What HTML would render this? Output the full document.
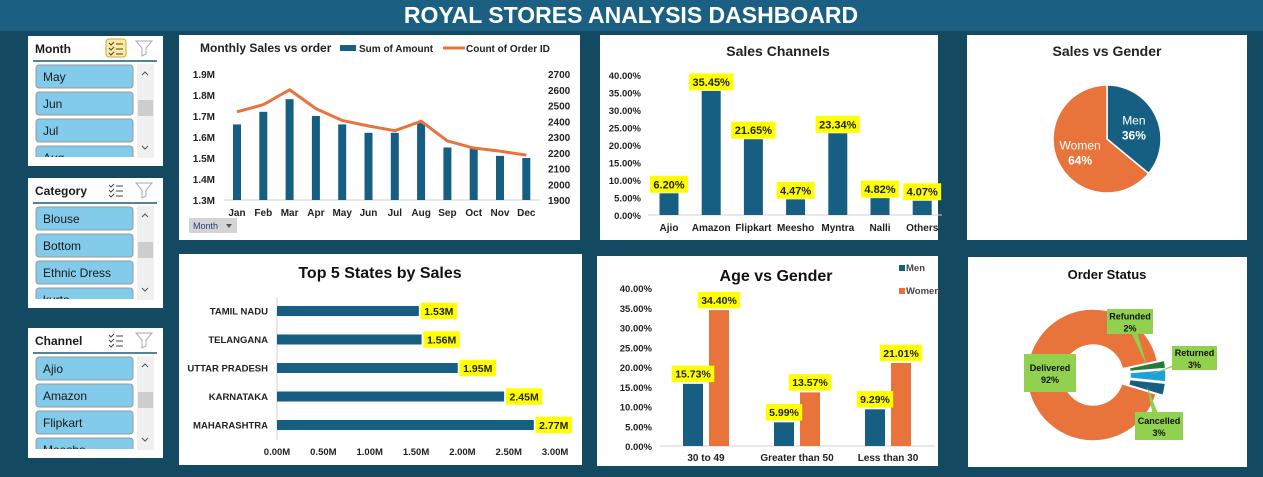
<!DOCTYPE html>
<html><head><meta charset="utf-8">
<style>
html,body{margin:0;padding:0;width:1263px;height:477px;overflow:hidden;background:#134a62;font-family:"Liberation Sans",Arial,sans-serif;}
svg text{font-family:"Liberation Sans",Arial,sans-serif;}
</style></head>
<body>
<svg id="dash" width="1263" height="477" viewBox="0 0 1263 477" xmlns="http://www.w3.org/2000/svg">
  <rect x="0" y="0" width="1263" height="477" fill="#134a62"/>
  <rect x="0" y="0" width="1263" height="31" fill="#1b6082"/>
  <text x="631" y="23" text-anchor="middle" fill="#fff" font-size="23" font-weight="bold">ROYAL STORES ANALYSIS DASHBOARD</text>

  <rect x="179" y="35" width="401" height="205" fill="#fff"/>
  <rect x="600" y="35" width="338" height="205" fill="#fff"/>
  <rect x="967" y="35" width="280" height="205" fill="#fff"/>
  <rect x="179" y="254" width="403" height="211" fill="#fff"/>
  <rect x="597" y="256" width="341" height="210" fill="#fff"/>
  <rect x="968" y="257" width="279" height="210" fill="#fff"/>

  <g id="slicers"></g>
  <g id="monthly"></g>
  <g id="channels"></g>
  <g id="genderpie"></g>
  <g id="states"></g>
  <g id="age"></g>
  <g id="status"></g>
</svg>
<script>
const months = ["Jan","Feb","Mar","Apr","May","Jun","Jul","Aug","Sep","Oct","Nov","Dec"];
const monthlyAmount = [1.66,1.72,1.78,1.70,1.66,1.62,1.62,1.67,1.55,1.55,1.51,1.50];
const monthlyOrders = [2460,2505,2600,2480,2405,2370,2340,2400,2275,2230,2210,2185];
const leftTicks = [1.3,1.4,1.5,1.6,1.7,1.8,1.9];
const rightTicks = [1900,2000,2100,2200,2300,2400,2500,2600,2700];

const channelNames = ["Ajio","Amazon","Flipkart","Meesho","Myntra","Nalli","Others"];
const channelShare = [6.20,35.45,21.65,4.47,23.34,4.82,4.07];
const pctTicks = [0,5,10,15,20,25,30,35,40];

const genderNames = ["Men","Women"];
const genderShare = [36,64];

const stateNames = ["TAMIL NADU","TELANGANA","UTTAR PRADESH","KARNATAKA","MAHARASHTRA"];
const stateSales = [1.53,1.56,1.95,2.45,2.77];
const stateTicks = [0,0.5,1.0,1.5,2.0,2.5,3.0];

const ageGroups = ["30 to 49","Greater than 50","Less than 30"];
const ageMen = [15.73,5.99,9.29];
const ageWomen = [34.40,13.57,21.01];

const statusNames = ["Delivered","Refunded","Returned","Cancelled"];
const statusShare = [92,2,3,3];

const slicerMonth = ["May","Jun","Jul","Aug"];
const slicerCategory = ["Blouse","Bottom","Ethnic Dress","kurta"];
const slicerChannel = ["Ajio","Amazon","Flipkart","Meesho"];

const NS="http://www.w3.org/2000/svg";
function mk(parent, tag, attrs, text){
  const e=document.createElementNS(NS,tag);
  for(const k in attrs) e.setAttribute(k,attrs[k]);
  if(text!==undefined) e.textContent=text;
  parent.appendChild(e); return e;
}
const BLUE="#175f82", ORANGE="#e8743b", YEL="#ffff00";
function label(g,cx,cy,txt,fs){
  const w=txt.length*fs*0.58+6;
  const r=mk(g,'rect',{x:cx-w/2,y:cy-fs/2-3,width:w,height:fs+6,fill:YEL});
  
  
  const t=mk(g,'text',{x:cx,y:cy+fs*0.36,'text-anchor':'middle','font-size':fs,'font-weight':'bold',fill:'#222'},txt);
  
  
}

(function(){
  const g=document.getElementById('slicers');
  const defs=[["Month",36,slicerMonth,true],["Category",178,slicerCategory,false],["Channel",328,slicerChannel,false]];
  defs.forEach(([title,y0,items,hl])=>{
    const s=mk(g,'g',{});
    
    
    mk(s,'rect',{x:28,y:y0,width:135,height:130,fill:'#fff'});
    const tt=mk(s,'text',{x:35,y:y0+17,'font-size':12,'font-weight':'bold',fill:'#1a1a1a'},title);
    
    
    const ms=mk(s,'g',{});
    
    
    if(hl) mk(ms,'rect',{x:106,y:y0+3,width:20,height:18,rx:3,fill:'#fdeaa0',stroke:'#c9a94a'});
    for(let i=0;i<3;i++){
      mk(ms,'path',{d:`M109 ${y0+7+i*5} l2 2 l3 -3 M116 ${y0+8+i*5} h7`,stroke:'#444',fill:'none','stroke-width':1});
    }
    const cf=mk(s,'path',{d:`M136 ${y0+5} h16 l-6 7 v6 l-4 2 v-8 z`,fill:'none',stroke:'#aaa','stroke-width':1});
    
    
    mk(s,'line',{x1:33,x2:157,y1:y0+25,y2:y0+25,stroke:'#1b5a78','stroke-width':1.5});
    const clipId='clip'+title;
    const cp=mk(s,'clipPath',{id:clipId}); mk(cp,'rect',{x:30,y:y0+27,width:110,height:94});
    const ig=mk(s,'g',{'clip-path':`url(#${clipId})`});
    items.forEach((it,i)=>{
      const b=mk(ig,'g',{});
      
      
      mk(b,'rect',{x:36,y:y0+29+i*27,width:97,height:23,rx:3,fill:'#83cbea',stroke:'#999'});
      mk(b,'text',{x:43,y:y0+45+i*27,'font-size':12,fill:'#1a1a1a'},it);
    });
    const sb=mk(s,'g',{});
    
    
    mk(sb,'rect',{x:137,y:y0+28,width:17,height:94,fill:'#f0f0f0'});
    mk(sb,'rect',{x:138,y:y0+64,width:15,height:16,fill:'#cdcdcd'});
    mk(sb,'path',{d:`M142 ${y0+39} l3 -3 l3 3`,stroke:'#555',fill:'none'});
    mk(sb,'path',{d:`M142 ${y0+110} l3 3 l3 -3`,stroke:'#555',fill:'none'});
  });
})();

(function(){
  const g=document.getElementById('monthly');
  const yL=v=>200-(v-1.3)/0.6*126;
  const yR=v=>200-(v-1900)/800*126;
  const x=i=>237+i*26.3;
  const t=mk(g,'text',{x:200,y:52,'font-size':12,'font-weight':'bold',fill:'#222'},'Monthly Sales vs order');
   
  const lg=mk(g,'g',{});  
  mk(lg,'rect',{x:340,y:45,width:16,height:6,fill:BLUE});
  mk(lg,'text',{x:359,y:52,'font-size':10,'font-weight':'bold',fill:'#222'},'Sum of Amount');
  mk(lg,'line',{x1:443,x2:465,y1:48,y2:48,stroke:ORANGE,'stroke-width':3});
  mk(lg,'text',{x:466,y:52,'font-size':10,'font-weight':'bold',fill:'#222'},'Count of Order ID');
  leftTicks.forEach(v=>{const e=mk(g,'text',{x:215,y:yL(v)+4,'text-anchor':'end','font-size':10,'font-weight':'bold',fill:'#222'},v.toFixed(1)+'M');
     });
  rightTicks.forEach(v=>{const e=mk(g,'text',{x:548,y:yR(v)+4,'font-size':10,'font-weight':'bold',fill:'#222'},v);
     });
  mk(g,'line',{x1:224,x2:540,y1:200,y2:200,stroke:'#d0d0d0'});
  months.forEach((m,i)=>{
    const b=mk(g,'rect',{x:x(i)-4,y:yL(monthlyAmount[i]),width:8,height:200-yL(monthlyAmount[i]),fill:BLUE});
     
    const l=mk(g,'text',{x:x(i),y:216,'text-anchor':'middle','font-size':10,'font-weight':'bold',fill:'#222'},m);
     
  });
  const pts=monthlyOrders.map((v,i)=>x(i)+','+yR(v)).join(' ');
  const pl=mk(g,'polyline',{points:pts,fill:'none',stroke:ORANGE,'stroke-width':3,'stroke-linejoin':'round'});
   
  const btn=mk(g,'g',{});  
  mk(btn,'rect',{x:189,y:218,width:48,height:15,fill:'#d4d4d4'});
  mk(btn,'text',{x:193,y:229,'font-size':9,fill:'#1f3f7f'},'Month');
  mk(btn,'path',{d:'M226 224 h6 l-3 4 z',fill:'#555'});
})();

(function(){
  const g=document.getElementById('channels');
  const y=v=>215-v*3.5;
  const x=i=>669+i*42.2;
  const t=mk(g,'text',{x:778,y:56,'text-anchor':'middle','font-size':14,'font-weight':'bold',fill:'#222'},'Sales Channels');
   
  pctTicks.forEach(v=>{const e=mk(g,'text',{x:641,y:y(v)+4,'text-anchor':'end','font-size':9.5,'font-weight':'bold',fill:'#222'},v.toFixed(2)+'%');
     });
  mk(g,'line',{x1:648,x2:942,y1:215,y2:215,stroke:'#d0d0d0'});
  channelNames.forEach((n,i)=>{
    const b=mk(g,'rect',{x:x(i)-9.5,y:y(channelShare[i]),width:19,height:215-y(channelShare[i]),fill:BLUE});
     
    const l=mk(g,'text',{x:x(i),y:231,'text-anchor':'middle','font-size':10,'font-weight':'bold',fill:'#222'},n);
     
    label(g,x(i),y(channelShare[i])-9,channelShare[i].toFixed(2)+'%',11);
  });
})();

(function(){
  const g=document.getElementById('genderpie');
  const t=mk(g,'text',{x:1107,y:56,'text-anchor':'middle','font-size':14,'font-weight':'bold',fill:'#222'},'Sales vs Gender');
   
  const cx=1107,cy=139,r=54; let a=0; const cols=[BLUE,ORANGE];
  genderShare.forEach((v,i)=>{
    const a0=a, a1=a+v/100*2*Math.PI; a=a1;
    const p=(ang)=>[cx+r*Math.sin(ang),cy-r*Math.cos(ang)];
    const [x0,y0]=p(a0),[x1,y1]=p(a1);
    const s=mk(g,'path',{d:`M${cx} ${cy} L${x0} ${y0} A${r} ${r} 0 ${a1-a0>Math.PI?1:0} 1 ${x1} ${y1} Z`,fill:cols[i],stroke:'#fff','stroke-width':1.5});
     
    const mid=(a0+a1)/2, lr=r*0.55;
    const lx=cx+lr*Math.sin(mid), ly=cy-lr*Math.cos(mid);
    mk(g,'text',{x:lx,y:ly-2,'text-anchor':'middle','font-size':12,fill:'#fff'},genderNames[i]);
    mk(g,'text',{x:lx,y:ly+13,'text-anchor':'middle','font-size':12,'font-weight':'bold',fill:'#fff'},v+'%');
  });
})();

(function(){
  const g=document.getElementById('states');
  const x=v=>277+v*92.7;
  const y=i=>311+i*28.5;
  const t=mk(g,'text',{x:380,y:278,'text-anchor':'middle','font-size':16,'font-weight':'bold',fill:'#111'},'Top 5 States by Sales');
   
  mk(g,'line',{x1:277,x2:277,y1:297,y2:440,stroke:'#d0d0d0'});
  stateTicks.forEach(v=>{const e=mk(g,'text',{x:x(v),y:455,'text-anchor':'middle','font-size':9.5,'font-weight':'bold',fill:'#222'},v.toFixed(2)+'M');
     });
  stateNames.forEach((n,i)=>{
    const b=mk(g,'rect',{x:277,y:y(i)-5,width:x(stateSales[i])-277,height:10,fill:BLUE});
     
    const l=mk(g,'text',{x:268,y:y(i)+3.5,'text-anchor':'end','font-size':9.5,'font-weight':'bold',fill:'#222'},n);
     
    label(g,x(stateSales[i])+20,y(i),stateSales[i].toFixed(2)+'M',10.5);
  });
})();

(function(){
  const g=document.getElementById('age');
  const y=v=>446-v*3.95;
  const xg=i=>706+i*91;
  const t=mk(g,'text',{x:776,y:281,'text-anchor':'middle','font-size':16,'font-weight':'bold',fill:'#111'},'Age vs Gender');
   
  const lg=mk(g,'g',{});  
  mk(lg,'rect',{x:899,y:265,width:6,height:6,fill:BLUE});
  mk(lg,'text',{x:906,y:271,'font-size':9.5,'font-weight':'bold',fill:'#444'},'Men');
  mk(lg,'rect',{x:899,y:288,width:6,height:6,fill:ORANGE});
  mk(lg,'text',{x:906,y:294,'font-size':9.5,'font-weight':'bold',fill:'#444'},'Women');
  pctTicks.forEach(v=>{const e=mk(g,'text',{x:652,y:y(v)+4,'text-anchor':'end','font-size':9.5,'font-weight':'bold',fill:'#222'},v.toFixed(2)+'%');
     });
  mk(g,'line',{x1:660,x2:935,y1:446,y2:446,stroke:'#d0d0d0'});
  ageGroups.forEach((n,i)=>{
    const bm=mk(g,'rect',{x:xg(i)-23,y:y(ageMen[i]),width:20,height:446-y(ageMen[i]),fill:BLUE});
     
    const bw=mk(g,'rect',{x:xg(i)+3,y:y(ageWomen[i]),width:20,height:446-y(ageWomen[i]),fill:ORANGE});
     
    const l=mk(g,'text',{x:xg(i),y:461,'text-anchor':'middle','font-size':10,'font-weight':'bold',fill:'#222'},n);
     
    label(g,xg(i)-13,y(ageMen[i])-10,ageMen[i].toFixed(2)+'%',10.5);
    label(g,xg(i)+13,y(ageWomen[i])-10,ageWomen[i].toFixed(2)+'%',10.5);
  });
})();

(function(){
  const g=document.getElementById('status');
  const t=mk(g,'text',{x:1107,y:279,'text-anchor':'middle','font-size':13,'font-weight':'bold',fill:'#111'},'Order Status');
   
  const cx=1093,cy=375,R=66,r=30;
  const cols=[ORANGE,'#237a3b','#1fa0d8',BLUE];
  const total=statusShare.reduce((a,b)=>a+b,0);
  let a=(78-360*statusShare[0]/total)*Math.PI/180;
  const boxes=[[1024,354,52,38],[1107,309,46,25],[1172,346,45,24],[1135,412,48,28]];
  statusShare.forEach((v,i)=>{
    const a0=a,a1=a+v/total*2*Math.PI; a=a1;
    const mid=(a0+a1)/2, off=i===0?0:7;
    const ox=cx+off*Math.sin(mid), oy=cy-off*Math.cos(mid);
    const P=(rr,ang)=>[ox+rr*Math.sin(ang),oy-rr*Math.cos(ang)];
    const lg=a1-a0>Math.PI?1:0;
    const [x0,y0]=P(R,a0),[x1,y1]=P(R,a1),[x2,y2]=P(r,a1),[x3,y3]=P(r,a0);
    const s=mk(g,'path',{d:`M${x0} ${y0} A${R} ${R} 0 ${lg} 1 ${x1} ${y1} L${x2} ${y2} A${r} ${r} 0 ${lg} 0 ${x3} ${y3} Z`,fill:cols[i],stroke:'#fff','stroke-width':1.5});
     
    const [bx,by,bw,bh]=boxes[i];
    if(i>0){
      const [px,py]=P((R+r)/2,mid);
      mk(g,'path',{d:`M${px} ${py} L${bx+bw/2-4} ${by+bh/2} L${bx+bw/2+4} ${by+bh/2} Z`,fill:'#92d050'});
    }
    const lb=mk(g,'g',{});  
    mk(lb,'rect',{x:bx,y:by,width:bw,height:bh,fill:'#92d050'});
    mk(lb,'text',{x:bx+bw/2,y:by+bh/2-2,'text-anchor':'middle','font-size':9,'font-weight':'bold',fill:'#111'},statusNames[i]);
    mk(lb,'text',{x:bx+bw/2,y:by+bh/2+10,'text-anchor':'middle','font-size':9,'font-weight':'bold',fill:'#111'},v+'%');
  });
})();
</script>
</body></html>
